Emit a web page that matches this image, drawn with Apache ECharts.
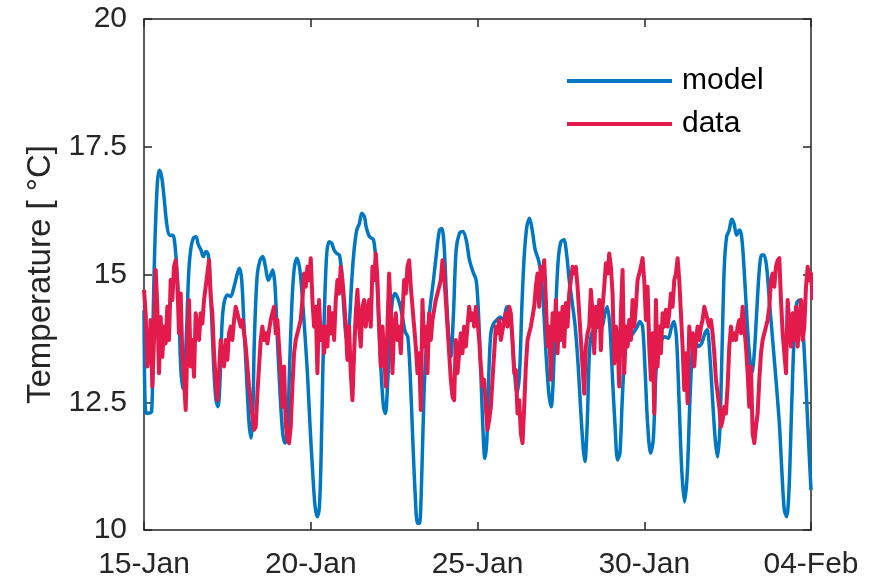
<!DOCTYPE html>
<html>
<head>
<meta charset="utf-8">
<script src="https://cdn.jsdelivr.net/npm/echarts@6/dist/echarts.min.js"></script>
<style>
  html, body { margin: 0; padding: 0; background: #fff; }
  #chart { width: 873px; height: 581px; }
</style>
</head>
<body>
<div id="chart"></div>
<script>
// x is days since 15-Jan
const xTickLabels = ["15-Jan", "20-Jan", "25-Jan", "30-Jan", "04-Feb"];
const seriesNames = ["model", "data"];

// model: [day, temperature]
const modelPoints = [
  [0.00, 14.3], [0.03, 12.54], [0.08, 12.28], [0.23, 12.32], [0.28, 14.37], [0.33, 15.68],
  [0.40, 16.78], [0.46, 17.04], [0.53, 16.91], [0.60, 16.52], [0.68, 16.0], [0.76, 15.77],
  [0.86, 15.77], [0.91, 15.68], [0.98, 15.15], [1.05, 14.24], [1.10, 13.2], [1.16, 12.77],
  [1.21, 12.94], [1.28, 13.98], [1.34, 15.02], [1.40, 15.48], [1.48, 15.71], [1.56, 15.74],
  [1.63, 15.58], [1.71, 15.48], [1.78, 15.35], [1.86, 15.45], [1.93, 15.38], [1.98, 14.89],
  [2.04, 13.98], [2.10, 13.07], [2.16, 12.54], [2.22, 12.41], [2.28, 12.94], [2.34, 14.04],
  [2.40, 14.44], [2.50, 14.6], [2.60, 14.57], [2.70, 14.76], [2.80, 15.02], [2.86, 15.12],
  [2.93, 14.89], [3.00, 13.98], [3.08, 12.94], [3.15, 12.09], [3.21, 11.8], [3.26, 12.2],
  [3.30, 13.5], [3.34, 14.3], [3.40, 15.02], [3.48, 15.28], [3.56, 15.35], [3.63, 15.19],
  [3.73, 14.89], [3.80, 14.99], [3.86, 15.09], [3.93, 14.76], [4.00, 13.72], [4.08, 12.67],
  [4.16, 11.89], [4.23, 11.70], [4.30, 11.89], [4.36, 13.07], [4.43, 14.37], [4.50, 15.09],
  [4.58, 15.32], [4.66, 15.15], [4.73, 14.7], [4.81, 13.98], [4.90, 13.07], [4.98, 12.02],
  [5.06, 11.11], [5.13, 10.46], [5.20, 10.26], [5.26, 10.46], [5.31, 11.43], [5.36, 13.07],
  [5.42, 14.5], [5.48, 15.41], [5.55, 15.64], [5.63, 15.61], [5.70, 15.48], [5.78, 15.41],
  [5.86, 15.38], [5.93, 15.02], [6.00, 14.24], [6.08, 13.72], [6.15, 13.98], [6.23, 14.89],
  [6.30, 15.48], [6.38, 15.87], [6.46, 16.0], [6.53, 16.2], [6.61, 16.13], [6.66, 15.94],
  [6.76, 15.74], [6.88, 15.68], [6.96, 15.22], [7.03, 14.24], [7.10, 13.2], [7.18, 12.41],
  [7.24, 12.28], [7.30, 12.8], [7.38, 13.85], [7.45, 14.5], [7.53, 14.63], [7.63, 14.5],
  [7.73, 14.24], [7.83, 13.88], [7.91, 13.78], [7.98, 13.07], [8.06, 11.76], [8.13, 10.72],
  [8.20, 10.13], [8.26, 10.13], [8.33, 11.11], [8.40, 12.74], [8.48, 13.72], [8.58, 14.37],
  [8.68, 14.89], [8.78, 15.48], [8.86, 15.87], [8.93, 15.9], [9.00, 15.55], [9.06, 14.7],
  [9.13, 13.85], [9.20, 13.39], [9.28, 14.24], [9.36, 15.48], [9.46, 15.81], [9.56, 15.84],
  [9.66, 15.68], [9.76, 15.28], [9.86, 15.06], [9.96, 14.89], [10.03, 14.24], [10.10, 13.07],
  [10.16, 12.02], [10.22, 11.4], [10.28, 11.76], [10.34, 13.07], [10.40, 13.85], [10.48, 14.04],
  [10.58, 14.11], [10.68, 14.17], [10.78, 14.11], [10.88, 14.37], [10.96, 14.34], [11.03, 13.85],
  [11.10, 13.2], [11.18, 12.67], [11.26, 13.07], [11.33, 14.37], [11.40, 15.35], [11.48, 15.94],
  [11.56, 16.1], [11.64, 15.87], [11.73, 15.48], [11.83, 15.28], [11.90, 15.02], [11.98, 14.37],
  [12.06, 13.39], [12.14, 12.67], [12.21, 12.41], [12.27, 12.94], [12.35, 14.37], [12.42, 15.28],
  [12.50, 15.64], [12.59, 15.68], [12.67, 15.41], [12.75, 14.89], [12.83, 14.5], [12.93, 13.98],
  [13.02, 13.2], [13.10, 12.28], [13.17, 11.6], [13.22, 11.34], [13.29, 12.09], [13.35, 13.39],
  [13.42, 13.85], [13.52, 13.92], [13.62, 13.98], [13.72, 13.98], [13.82, 14.24], [13.89, 14.37],
  [13.97, 13.98], [14.04, 13.07], [14.12, 12.09], [14.20, 11.37], [14.27, 11.5], [14.34, 12.54],
  [14.42, 13.46], [14.52, 13.72], [14.67, 13.85], [14.79, 13.98], [14.87, 14.08], [14.95, 13.98],
  [15.02, 13.2], [15.10, 12.09], [15.19, 11.5], [15.27, 11.76], [15.35, 13.07], [15.42, 13.59],
  [15.52, 13.72], [15.62, 13.78], [15.72, 13.75], [15.82, 13.98], [15.89, 14.08], [15.97, 13.72],
  [16.05, 12.41], [16.13, 11.11], [16.21, 10.55], [16.29, 11.11], [16.37, 12.54], [16.45, 13.59],
  [16.52, 13.72], [16.62, 13.59], [16.72, 13.65], [16.82, 13.85], [16.89, 13.92], [16.97, 13.39],
  [17.05, 12.54], [17.13, 11.76], [17.20, 11.43], [17.27, 12.02], [17.34, 13.72], [17.40, 15.15],
  [17.47, 15.74], [17.55, 15.87], [17.62, 16.08], [17.69, 16.0], [17.77, 15.77], [17.85, 15.87],
  [17.92, 15.74], [17.99, 15.15], [18.07, 14.24], [18.15, 13.46], [18.23, 13.07], [18.30, 13.46],
  [18.37, 14.24], [18.45, 15.09], [18.52, 15.38], [18.59, 15.38], [18.67, 15.15], [18.75, 14.5],
  [18.85, 13.72], [18.95, 12.94], [19.05, 12.09], [19.13, 11.11], [19.20, 10.39], [19.27, 10.26],
  [19.34, 10.78], [19.42, 12.41], [19.49, 13.72], [19.57, 14.44], [19.65, 14.5], [19.72, 14.31],
  [19.79, 13.59], [19.87, 12.54], [19.95, 11.43], [20.00, 10.78]
];

// data: measured temperature, one sample every 0.05 day from 15-Jan
const dataStepDays = 0.05;
const dataTemps = [
  14.7, 14.24, 13.2, 13.46, 14.11, 12.81, 13.72, 15.09, 14.37, 13.07, 14.17, 13.39, 13.98, 13.65,
  14.37, 13.72, 14.89, 14.5, 15.15, 15.28, 14.83, 13.85, 14.63, 13.39, 12.94, 12.35, 13.59, 14.5,
  13.2, 13.72, 13.0, 14.24, 13.98, 13.72, 14.24, 14.04, 14.5, 14.76, 15.02, 15.28, 14.57, 14.24,
  13.46, 12.94, 12.54, 13.07, 13.72, 13.46, 13.2, 13.72, 13.33, 13.85, 13.98, 13.72, 14.11, 14.37,
  14.24, 14.11, 13.98, 14.11, 13.85, 13.59, 13.2, 12.81, 12.54, 12.22, 11.96, 12.02,
  // 18-Jan ..
  12.67, 13.2, 13.72, 13.98, 13.72, 13.85, 13.65, 13.91, 14.11, 14.24, 14.37, 13.85, 14.11, 13.59,
  13.07, 12.41, 13.2, 12.09, 11.76, 11.7, 12.02, 12.81, 13.46, 13.72, 13.85, 13.98, 14.11, 14.5,
  15.02, 14.76, 15.15, 14.89, 15.32, 14.5, 13.98, 14.37, 13.07, 14.5, 13.72, 13.98, 13.46, 13.98,
  13.59, 14.37, 13.85, 14.24, 13.72, 14.5, 14.89, 14.63, 15.15, 14.89, 14.5, 13.98, 13.33, 13.98,
  13.07, 12.54, 13.46, 14.24, 14.7, 13.98, 13.59, 14.37, 14.5, 13.98,
  // 21-Jan ..
  14.31, 14.5, 13.98, 15.15, 14.89, 15.41, 14.89, 13.98, 13.2, 13.98, 13.46, 12.81, 13.98, 15.02,
  14.24, 13.07, 13.98, 14.24, 13.72, 13.98, 13.46, 14.24, 14.89, 14.63, 15.15, 15.28, 14.76, 14.37,
  13.98, 13.59, 13.07, 13.46, 12.35, 14.5, 13.59, 13.98, 13.07, 14.24, 13.72, 14.11, 14.31, 14.5,
  14.63, 14.76, 14.89, 15.28, 15.02, 14.5, 13.98, 13.46, 12.94, 12.61, 12.54, 13.72, 13.07, 13.46,
  13.85, 13.46, 13.98, 13.59, 13.98, 14.37, 14.11, 14.24, 13.98, 14.37,
  // 25-Jan ..
  14.11, 13.72, 13.2, 12.81, 12.94, 12.41, 11.96, 12.15, 12.41, 12.94, 13.46, 13.98, 13.85, 14.11,
  13.72, 13.91, 14.11, 14.24, 13.98, 14.37, 14.24, 13.72, 13.07, 13.13, 12.28, 12.54, 11.89, 11.7,
  12.41, 13.2, 13.72, 13.85, 13.98, 13.98, 14.37, 14.76, 15.02, 14.37, 15.15, 14.89, 15.28, 14.5,
  13.59, 13.98, 12.94, 14.24, 13.72, 14.5, 13.46, 14.24, 13.72, 14.37, 13.59, 14.44, 13.98, 14.63,
  14.89, 15.15, 15.02, 15.15, 14.76, 14.24, 13.72, 13.2, 12.67, 13.59,
  // 28-Jan ..
  13.85, 13.98, 14.7, 14.24, 13.46, 14.37, 13.98, 14.5, 13.52, 14.37, 14.76, 15.22, 15.02, 15.41,
  15.15, 14.63, 13.26, 13.98, 13.72, 12.81, 14.24, 15.09, 13.07, 13.98, 13.59, 14.11, 13.72, 14.5,
  13.98, 14.37, 14.89, 15.02, 15.15, 15.32, 14.89, 14.11, 14.76, 13.59, 12.94, 13.85, 12.28, 14.5,
  13.2, 13.98, 13.46, 14.24, 13.98, 14.31, 13.98, 14.24, 14.63, 14.37, 14.89, 15.02, 15.32, 14.89,
  14.24, 13.59, 12.74, 13.46, 12.48, 13.98, 13.59, 13.85, 13.2, 13.72,
  // 31-Jan ..
  13.98, 13.72, 13.98, 14.11, 14.37, 14.24, 14.11, 13.98, 14.11, 13.85, 13.46, 12.94, 12.67, 12.41,
  12.02, 12.15, 12.41, 12.28, 12.81, 13.59, 13.98, 13.72, 13.85, 13.72, 13.98, 14.11, 13.85, 14.37,
  13.98, 13.59, 13.07, 12.41, 13.2, 11.89, 11.7, 12.02, 12.28, 12.94, 13.46, 13.72, 13.85, 13.98,
  14.11, 14.37, 14.89, 15.02, 14.76, 15.15, 15.28, 15.32, 14.5, 13.85, 13.46, 13.07, 14.5, 13.98,
  13.59, 14.24, 13.72, 14.37, 13.59, 14.11, 14.5, 13.72, 13.98, 14.76, 15.15, 14.89, 15.02, 14.5
];

const dataPoints = dataTemps.map((t, i) => [i * dataStepDays, t]);

const axisColor = "#262626";
const fontFamily = "'Liberation Sans', Arial, Helvetica, sans-serif";

const chart = echarts.init(document.getElementById("chart"), null, { renderer: "canvas" });

const xBase = {
  type: "value",
  min: 0,
  max: 20,
  interval: 5,
  splitLine: { show: false },
  axisLine: { show: true, onZero: false, lineStyle: { color: axisColor, width: 1.5 } },
  axisTick: { show: true, inside: true, length: 8, lineStyle: { color: axisColor, width: 1.5 } }
};
const yBase = {
  type: "value",
  min: 10,
  max: 20,
  interval: 2.5,
  splitLine: { show: false },
  axisLine: { show: true, onZero: false, lineStyle: { color: axisColor, width: 1.5 } },
  axisTick: { show: true, inside: true, length: 8, lineStyle: { color: axisColor, width: 1.5 } }
};

chart.setOption({
  animation: false,
  backgroundColor: "#fff",
  textStyle: { fontFamily },
  grid: { left: 144, right: 62, top: 19, bottom: 51, containLabel: false, outerBoundsMode: "none" },
  legend: {
    data: seriesNames,
    orient: "vertical",
    left: 562,
    top: 61,
    itemWidth: 105,
    itemHeight: 4,
    itemGap: 13,
    icon: "rect",
    textStyle: { fontSize: 30, color: "#000", fontFamily, padding: [0, 0, 0, 5] }
  },
  xAxis: [
    Object.assign({}, xBase, {
      position: "bottom",
      axisLabel: {
        show: true,
        fontSize: 30,
        color: axisColor,
        fontFamily,
        margin: 20,
        showMinLabel: true,
        showMaxLabel: true,
        formatter: (v) => xTickLabels[Math.round(v / 5)]
      }
    }),
    Object.assign({}, xBase, { position: "top", axisLabel: { show: false } })
  ],
  yAxis: [
    Object.assign({}, yBase, {
      position: "left",
      name: "Temperature [ °C]",
      nameLocation: "middle",
      nameGap: 86,
      nameTextStyle: { fontSize: 33, color: axisColor, fontFamily },
      axisLabel: { show: true, fontSize: 30, color: axisColor, fontFamily, margin: 17 }
    }),
    Object.assign({}, yBase, { position: "right", axisLabel: { show: false } })
  ],
  series: [
    {
      name: seriesNames[0],
      type: "line",
      data: modelPoints,
      showSymbol: false,
      symbol: "none",
      smooth: 0.3,
      color: "#0077C2",
      lineStyle: { width: 3.5, color: "#0077C2" }
    },
    {
      name: seriesNames[1],
      type: "line",
      data: dataPoints,
      showSymbol: false,
      symbol: "none",
      color: "#E31A4C",
      lineStyle: { width: 4, color: "#E31A4C", join: "round" }
    }
  ]
});
</script>
</body>
</html>
